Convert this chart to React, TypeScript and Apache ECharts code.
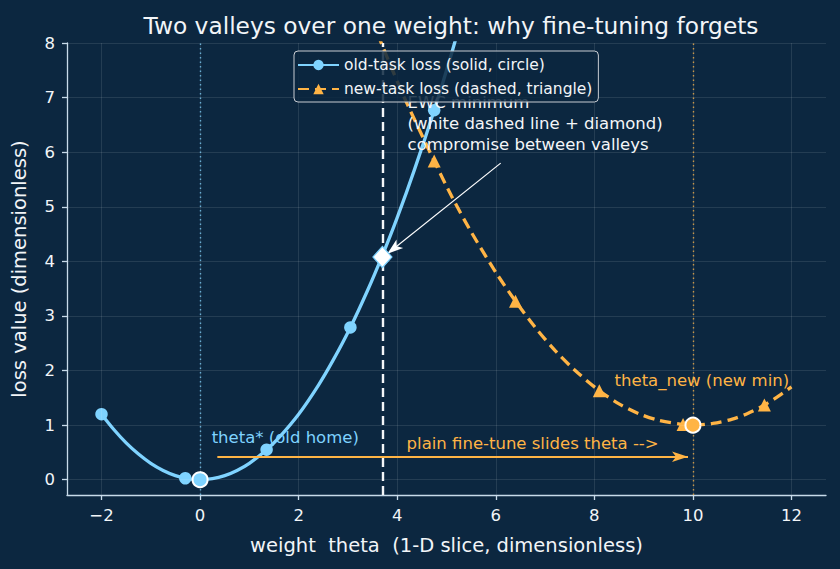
import React, { useEffect, useRef } from "react";
import * as echarts from "echarts";

const TITLE = "Two valleys over one weight: why fine-tuning forgets";
const X_NAME = "weight  theta  (1-D slice, dimensionless)";
const Y_NAME = "loss value (dimensionless)";

const xTicks = [-2, 0, 2, 4, 6, 8, 10, 12];
const yTicks = [0, 1, 2, 3, 4, 5, 6, 7, 8];

// old-task loss curve
const oldX = [-2, -1.75, -1.5, -1.25, -1, -0.75, -0.5, -0.3, -0.15, 0, 0.25, 0.5, 0.75, 1, 1.35, 1.6, 2, 2.4, 2.7, 3.05, 3.4, 3.7, 4, 4.35, 4.75, 5.1, 5.5];
const oldY = [1.2, 0.92, 0.675, 0.47, 0.3, 0.17, 0.075, 0.027, 0.007, 0, 0.019, 0.075, 0.17, 0.3, 0.55, 0.77, 1.2, 1.73, 2.19, 2.79, 3.47, 4.11, 4.8, 5.68, 6.77, 7.8, 9.08];
const oldMarkerX = [-2, -0.3, 1.35, 3.05, 4.75];

// new-task loss curve
const newX = [3.6, 3.9, 4.2, 4.75, 5.1, 5.5, 6, 6.4, 6.8, 7.2, 7.6, 8.1, 8.5, 8.9, 9.3, 9.8, 10, 10.4, 10.8, 11.1, 11.45, 11.75, 12];
const newY = [8.17, 7.51, 6.89, 5.84, 5.2, 4.54, 3.8, 3.27, 2.79, 2.37, 2.01, 1.63, 1.39, 1.21, 1.09, 1.01, 1.0, 1.03, 1.11, 1.21, 1.37, 1.54, 1.7];
const newMarkerX = [4.75, 6.4, 8.1, 9.8, 11.45];

const thetaOld = [0, 0];
const thetaNew = [10, 1];
const ewcMin = [3.7, 4.08];

const BG = "#0c2740";
const BLUE = "#7fd3ff";
const ORANGE = "#ffb445";
const SPINE = "#c8dbea";
const TXT = "#f2f5f8";
const FONT = "DejaVu Sans";

export default function App() {
  const ref = useRef<HTMLDivElement>(null);
  useEffect(() => {
    if (!ref.current) return;
    const chart = echarts.init(ref.current, undefined, { renderer: "svg" });
    const fmt = (v: number) => (v < 0 ? "\u2212" + Math.abs(v) : String(v));
    const oldData = oldX.map((x, i) => ({
      value: [x, oldY[i]],
      symbol: oldMarkerX.includes(x) ? "circle" : "none",
    }));
    const newData = newX.map((x, i) => ({
      value: [x, newY[i]],
      symbol: newMarkerX.includes(x) ? "triangle" : "none",
    }));
    const textItem = (x: number, y: number, text: string, color: string, lh = 20) => ({
      value: [x, y],
      itemStyle: { color: "rgba(0,0,0,0)", opacity: 1 },
      label: {
        show: true,
        formatter: text,
        color,
        opacity: 1,
        position: [0, 0],
        align: "left",
        verticalAlign: "middle",
        fontFamily: FONT,
        fontSize: 16.5,
        lineHeight: lh,
      },
    });
    chart.setOption({
      animation: false,
      backgroundColor: BG,
      title: {
        text: TITLE,
        left: 446,
        textAlign: "center",
        top: 9,
        textStyle: { color: TXT, fontSize: 23.3, fontWeight: "normal", fontFamily: FONT },
      },
      legend: {
        data: ["old-task loss (solid, circle)", "new-task loss (dashed, triangle)"],
        orient: "vertical",
        left: 294,
        top: 51,
        padding: [6, 6, 5, 3],
        itemGap: 8,
        itemWidth: 41,
        itemHeight: 13,
        backgroundColor: "rgba(12,39,64,0.85)",
        borderColor: "#c8ccd2",
        borderWidth: 1,
        borderRadius: 4,
        textStyle: { color: TXT, fontSize: 15.5, fontFamily: FONT },
        z: 20,
      },
      grid: { left: 67, right: 14, top: 43, bottom: 74 },
      xAxis: {
        type: "value",
        min: -2.7,
        max: 12.7,
        name: X_NAME,
        nameLocation: "middle",
        nameGap: 40,
        nameTextStyle: { color: TXT, fontSize: 19.5, fontFamily: FONT },
        axisLine: { show: true, onZero: false, lineStyle: { color: SPINE, width: 1.3 } },
        axisTick: { show: true, length: 5, lineStyle: { color: SPINE, width: 1.3 }, customValues: xTicks },
        axisLabel: { color: TXT, fontSize: 16.5, fontFamily: FONT, margin: 12, formatter: fmt, customValues: xTicks },
        splitLine: { show: false },
      },
      yAxis: {
        type: "value",
        min: -0.28,
        max: 8,
        name: Y_NAME,
        nameLocation: "middle",
        nameGap: 38,
        nameTextStyle: { color: TXT, fontSize: 19.5, fontFamily: FONT },
        axisLine: { show: true, onZero: false, lineStyle: { color: SPINE, width: 1.3 } },
        axisTick: { show: true, length: 5, lineStyle: { color: SPINE, width: 1.3 }, customValues: yTicks },
        axisLabel: { color: TXT, fontSize: 16.5, fontFamily: FONT, margin: 12, formatter: fmt, customValues: yTicks },
        splitLine: { show: false },
      },
      series: [
        {
          name: "grid",
          type: "line",
          data: [],
          silent: true,
          z: 0,
          markLine: {
            silent: true,
            symbol: "none",
            label: { show: false },
            lineStyle: { color: "rgba(255,255,255,0.13)", width: 0.8, type: "solid" },
            data: [
              ...xTicks.map((v) => ({ xAxis: v })),
              ...yTicks.map((v) => ({ yAxis: v })),
            ],
          },
        },
        {
          name: "vlines",
          type: "line",
          data: [],
          silent: true,
          z: 1,
          markLine: {
            silent: true,
            symbol: "none",
            label: { show: false },
            data: [
              { xAxis: thetaOld[0], lineStyle: { color: BLUE, type: [1.5, 3], width: 1.4, opacity: 0.75 } },
              { xAxis: thetaNew[0], lineStyle: { color: ORANGE, type: [1.5, 3], width: 1.4, opacity: 0.75 } },
              { xAxis: ewcMin[0], lineStyle: { color: "#f4f6f8", type: [9, 5], width: 2.4 } },
            ],
          },
        },
        {
          name: "old-task loss (solid, circle)",
          type: "line",
          data: oldData,
          smooth: 0.3,
          symbol: "circle",
          symbolSize: 12.5,
          showSymbol: true,
          showAllSymbol: true,
          clip: true,
          color: BLUE,
          lineStyle: { color: BLUE, width: 3.3 },
          itemStyle: { color: BLUE },
          z: 3,
        },
        {
          name: "new-task loss (dashed, triangle)",
          type: "line",
          data: newData,
          smooth: 0.3,
          symbol: "triangle",
          symbolSize: 13,
          showSymbol: true,
          showAllSymbol: true,
          clip: true,
          color: ORANGE,
          lineStyle: { color: ORANGE, width: 3.3, type: [11, 6] },
          itemStyle: { color: ORANGE },
          z: 3,
        },
        {
          name: "special",
          type: "scatter",
          z: 5,
          data: [
            { value: thetaOld, symbol: "circle", symbolSize: 15, itemStyle: { color: BLUE, borderColor: "#ffffff", borderWidth: 2, opacity: 1 } },
            { value: thetaNew, symbol: "circle", symbolSize: 15, itemStyle: { color: ORANGE, borderColor: "#ffffff", borderWidth: 2, opacity: 1 } },
            { value: ewcMin, symbol: "diamond", symbolSize: [19, 21], itemStyle: { color: "#ffffff", borderColor: BLUE, borderWidth: 1.2, opacity: 1 } },
          ],
        },
        {
          name: "arrows",
          type: "line",
          data: [],
          silent: true,
          z: 6,
          markLine: {
            silent: true,
            label: { show: false },
            symbol: ["none", "arrow"],
            data: [
              [
                { coord: [0.35, 0.42], lineStyle: { color: ORANGE, width: 2.2, type: "solid" }, symbolSize: 9 },
                { coord: [9.9, 0.42] },
              ],
              [
                { coord: [6.1, 5.8], lineStyle: { color: "#ffffff", width: 1.2, type: "solid" }, symbolSize: 9 },
                { coord: [3.8, 4.14] },
              ],
            ],
          },
        },
        {
          name: "texts",
          type: "scatter",
          symbolSize: 1,
          silent: true,
          z: 8,
          itemStyle: { color: "rgba(0,0,0,0)", opacity: 1 },
          data: [
            textItem(0.245, 0.77, "theta* (old home)", BLUE),
            textItem(4.2, 0.66, "plain fine-tune slides theta -->", ORANGE),
            textItem(8.42, 1.81, "theta_new (new min)", ORANGE),
            textItem(4.22, 6.52, "EWC minimum\n(white dashed line + diamond)\ncompromise between valleys", "#f4f6f8", 21),
          ],
        },
      ],
    });
    return () => chart.dispose();
  }, []);
  return <div ref={ref} style={{ width: 840, height: 569, position: "absolute", left: 0, top: 0 }} />;
}
